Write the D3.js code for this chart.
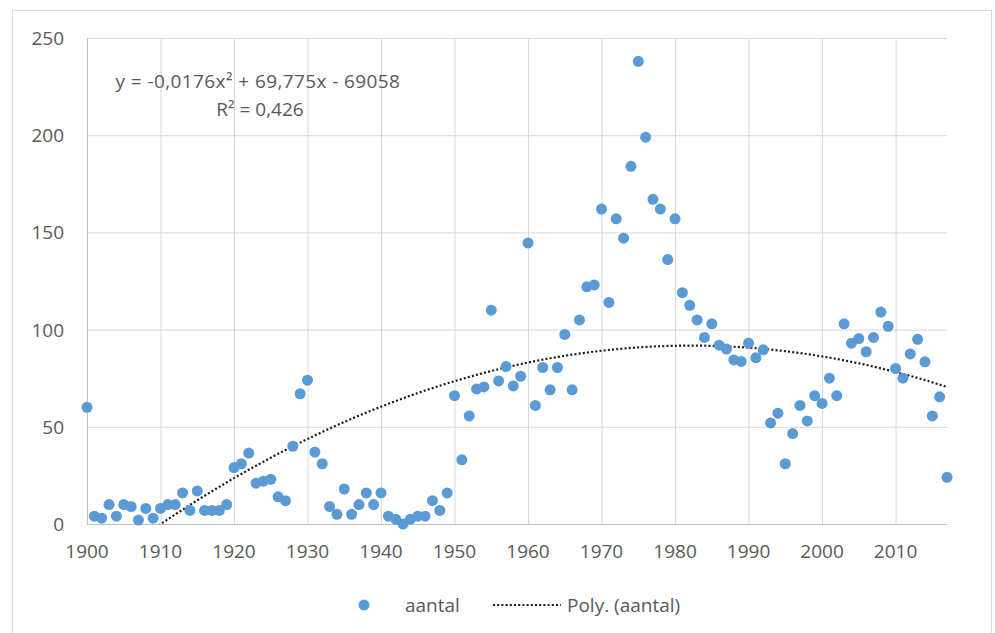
<!DOCTYPE html>
<html>
<head>
<meta charset="utf-8">
<style>
  body { margin: 0; background: #fff; font-family: 'Open Sans', sans-serif; }
  svg text { fill: #595959; }
</style>
</head>
<body>
<svg id="chart" width="995" height="633"></svg>
<script src="https://cdnjs.cloudflare.com/ajax/libs/d3/7.8.5/d3.min.js"></script>
<script>
// years 1900..2017 and the count per year
const years = d3.range(1900, 2018);
const aantal = [
  60, 4, 3, 10, 4, 10, 9, 2, 8, 3,
  8, 10, 10, 16, 7, 17, 7, 7, 7, 10,
  29, 31, 36.5, 21, 22, 23, 14, 12, 40, 67,
  74, 37, 31, 9, 5, 18, 5, 10, 16, 10,
  16, 4, 2.5, 0, 2.5, 4, 4, 12, 7, 16,
  66, 33, 55.6, 69.5, 70.5, 110, 73.6, 81, 71, 76,
  144.6, 61, 80.5, 69, 80.5, 97.5, 69, 105, 122, 123,
  162, 114, 157, 147, 184, 238, 199, 167, 162, 136,
  157, 119, 112.5, 105, 96, 103, 92, 90, 84.4, 83.6,
  93, 85.5, 89.6, 52, 57, 31, 46.5, 61, 53, 66,
  62, 75, 66, 103, 93, 95.4, 88.6, 96, 109, 101.7,
  80, 75, 87.5, 95, 83.4, 55.6, 65.4, 24
];
const xTicks = d3.range(1900, 2011, 10);
const yTicks = [0, 50, 100, 150, 200, 250];
// trendline coefficients as printed on the chart (x², x)
const trendCoef = [-0.0176, 69.775];
const trendLabel = ["y = -0,0176x² + 69,775x - 69058", "R² = 0,426"];

const svg = d3.select("#chart");
const margin = { left: 87, right: 48, top: 38, bottom: 109 };
const W = 995, H = 633;

const x = d3.scaleLinear().domain([1900, 2017]).range([margin.left, W - margin.right]);
const y = d3.scaleLinear().domain([0, 250]).range([H - margin.bottom, margin.top]);

// chart border
svg.append("rect")
  .attr("x", 12.5).attr("y", 10.5)
  .attr("width", 979).attr("height", 640)
  .attr("fill", "none").attr("stroke", "#d9d9d9");

// gridlines
svg.append("g").selectAll("line").data(yTicks.slice(1)).join("line")
  .attr("x1", x(1900)).attr("x2", x(2017))
  .attr("y1", d => y(d) + 0.5).attr("y2", d => y(d) + 0.5)
  .attr("stroke", "#d9d9d9");
svg.append("g").selectAll("line").data(xTicks.slice(1)).join("line")
  .attr("y1", y(0)).attr("y2", y(250))
  .attr("x1", d => x(d) + 0.5).attr("x2", d => x(d) + 0.5)
  .attr("stroke", "#d9d9d9");

// axes lines
svg.append("line")
  .attr("x1", x(1900) + 0.5).attr("x2", x(1900) + 0.5)
  .attr("y1", y(0)).attr("y2", y(250))
  .attr("stroke", "#bfbfbf");
svg.append("line")
  .attr("x1", x(1900)).attr("x2", x(2017))
  .attr("y1", y(0) + 0.5).attr("y2", y(0) + 0.5)
  .attr("stroke", "#bfbfbf");

// tick labels
svg.append("g").selectAll("text").data(yTicks).join("text")
  .attr("x", 64).attr("y", d => y(d) + 7)
  .attr("text-anchor", "end")
  .style("font-size", "19px")
  .text(d => d);
svg.append("g").selectAll("text").data(xTicks).join("text")
  .attr("x", d => x(d)).attr("y", y(0) + 34)
  .attr("text-anchor", "middle")
  .style("font-size", "19px")
  .text(d => d);

// the printed constant is too rounded to use directly with x ~ 2000,
// so keep a and b and take the intercept as the least-squares value
const [a2, b1] = trendCoef;
const c0 = d3.mean(years, (yr, i) => aantal[i] - a2 * yr * yr - b1 * yr);
const fit = t => a2 * t * t + b1 * t + c0;

svg.append("defs").append("clipPath").attr("id", "plot")
  .append("rect")
  .attr("x", x(1900)).attr("y", y(250))
  .attr("width", x(2017) - x(1900)).attr("height", y(0) - y(250));

const trendPts = d3.range(1900, 2017.01, 0.5);
svg.append("path")
  .datum(trendPts)
  .attr("clip-path", "url(#plot)")
  .attr("fill", "none")
  .attr("stroke", "#1a1a1a")
  .attr("stroke-width", 2.2)
  .attr("stroke-dasharray", "2 2.2")
  .attr("d", d3.line().x(d => x(d)).y(d => y(fit(d))));

// points
svg.append("g").selectAll("circle").data(years).join("circle")
  .attr("cx", d => x(d))
  .attr("cy", (d, i) => y(aantal[i]))
  .attr("r", 5.5)
  .attr("fill", "#5b9bd5");

// trendline equation
svg.append("text").attr("x", 258).attr("y", 88).attr("text-anchor", "middle")
  .style("font-size", "19px").style("letter-spacing", "0.4px")
  .text(trendLabel[0]);
svg.append("text").attr("x", 260).attr("y", 116).attr("text-anchor", "middle")
  .style("font-size", "19px")
  .text(trendLabel[1]);

// legend
const lg = svg.append("g");
lg.append("circle").attr("cx", 364).attr("cy", 605).attr("r", 5.5).attr("fill", "#5b9bd5");
lg.append("text").attr("x", 405).attr("y", 612).style("font-size", "19px").text("aantal");
lg.append("line").attr("x1", 493).attr("x2", 561).attr("y1", 605).attr("y2", 605)
  .attr("stroke", "#1a1a1a").attr("stroke-width", 2.2).attr("stroke-dasharray", "2 2.2");
lg.append("text").attr("x", 567).attr("y", 612).style("font-size", "19px").text("Poly. (aantal)");
</script>
</body>
</html>
